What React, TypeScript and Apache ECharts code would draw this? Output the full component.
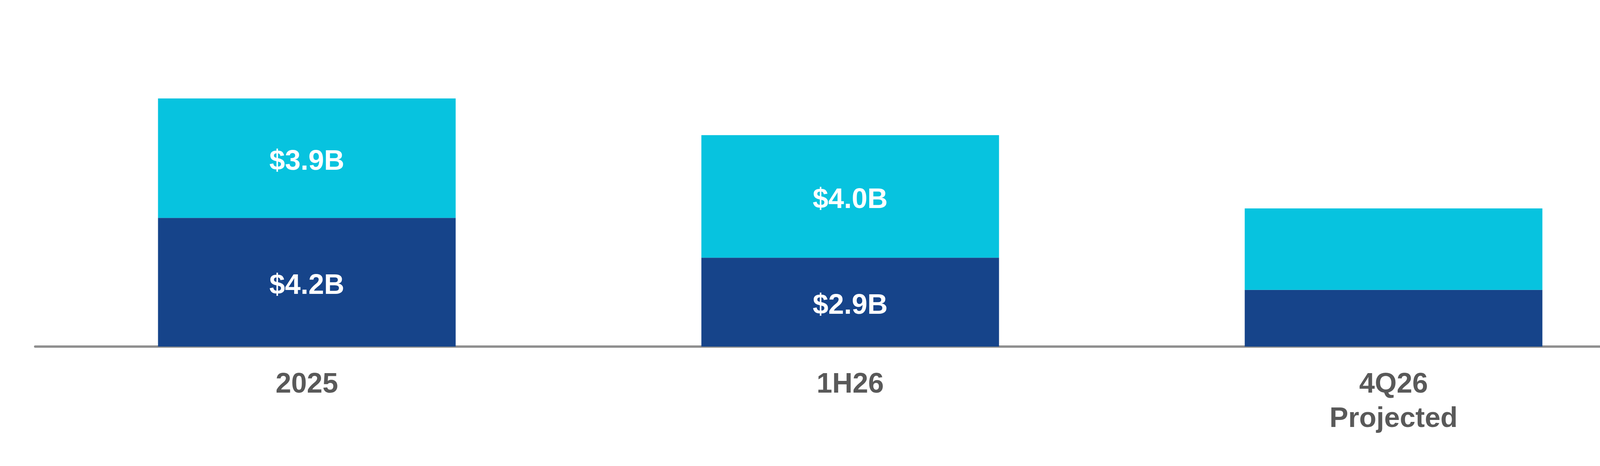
import { useEffect, useRef } from 'react'
import * as echarts from 'echarts'

const categories = ['2025', '1H26', '4Q26\nProjected']
const lowerValues = [4.2, 2.9, 1.85]
const upperValues = [3.9, 4.0, 2.66]
const lowerLabels = ['$4.2B', '$2.9B', '']
const upperLabels = ['$3.9B', '$4.0B', '']

const FONT = '"Liberation Sans", Arial, sans-serif'

export default function App() {
  const ref = useRef<HTMLDivElement>(null)

  useEffect(() => {
    if (!ref.current) return
    const chart = echarts.init(ref.current, undefined, { renderer: 'svg' })

    const label = (texts: string[]) => ({
      show: true,
      position: 'inside',
      offset: [0, 5],
      color: '#ffffff',
      fontSize: 72,
      fontWeight: 'bold',
      fontFamily: FONT,
      formatter: (p: { dataIndex: number }) => texts[p.dataIndex],
    })

    chart.setOption({
      animation: false,
      backgroundColor: '#ffffff',
      grid: { left: 90, right: 87, top: 103, bottom: 306 },
      xAxis: {
        type: 'category',
        data: categories,
        offset: 3,
        axisLine: { lineStyle: { color: '#8f8f8f', width: 6 } },
        axisTick: { show: false },
        axisLabel: {
          color: '#595959',
          fontSize: 72,
          fontWeight: 'bold',
          fontFamily: FONT,
          lineHeight: 88,
          margin: 46,
        },
      },
      yAxis: {
        type: 'value',
        min: 0,
        max: 10,
        show: false,
      },
      series: [
        {
          name: 'lower',
          type: 'bar',
          stack: 'total',
          barWidth: 762,
          data: lowerValues,
          itemStyle: { color: '#16448a' },
          label: label(lowerLabels),
        },
        {
          name: 'upper',
          type: 'bar',
          stack: 'total',
          barWidth: 762,
          data: upperValues,
          itemStyle: { color: '#07c3df' },
          label: label(upperLabels),
        },
      ],
    })

    return () => {
      chart.dispose()
    }
  }, [])

  return (
    <div
      ref={ref}
      style={{ position: 'absolute', left: 0, top: 0, width: 4350, height: 1194 }}
    />
  )
}
